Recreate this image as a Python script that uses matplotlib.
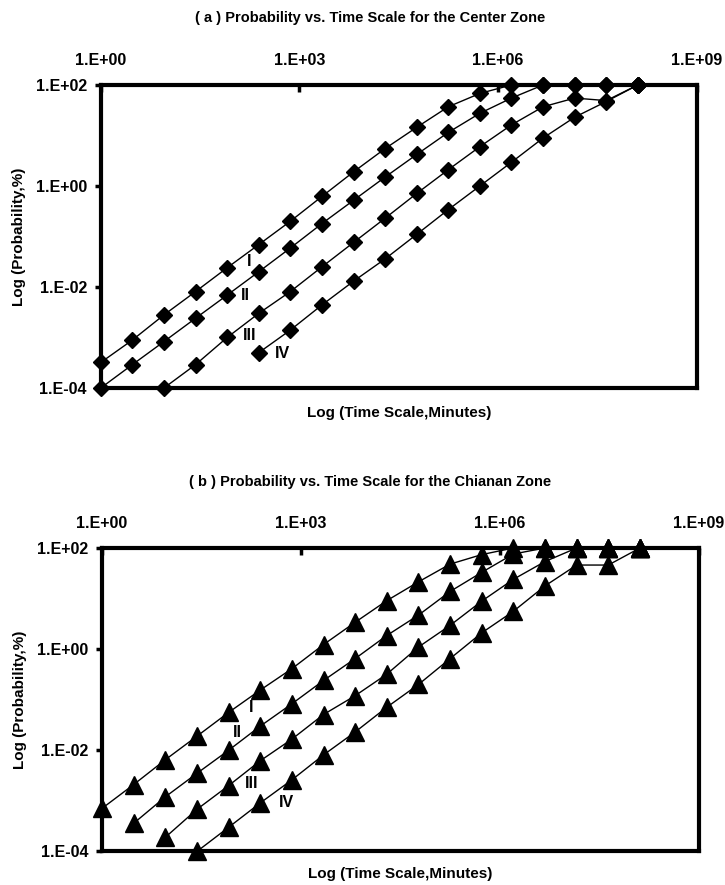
import matplotlib
matplotlib.use("Agg")
import matplotlib.pyplot as plt
from matplotlib.ticker import FixedLocator, NullLocator

plt.rcParams['font.family'] = ['Liberation Sans', 'DejaVu Sans']
plt.rcParams['font.weight'] = 'bold'

# Time scale (minutes)
time_min = [1, 3, 9, 27, 81, 243, 729, 2187, 6561, 19683, 59049, 177147,
            531441, 1594323, 4782969, 14348907, 43046721, 129140163]

# Panel (a) Center Zone, probability (%)
a_I = [3.2e-4, 8.9e-4, 2.8e-3, 8.1e-3, 0.024, 0.069, 0.20, 0.62, 1.9, 5.5,
       14.5, 37, 68, 100, 100, 100, 100, 100]
a_II = [1.0e-4, 2.9e-4, 8.3e-4, 2.4e-3, 6.9e-3, 0.020, 0.059, 0.18, 0.52,
        1.5, 4.2, 11.5, 27.5, 55, 100, 100, 100, 100]
a_III = [1.0e-4, 2.9e-4, 1.0e-3, 3.0e-3, 8.1e-3, 0.025, 0.076, 0.23, 0.71,
         2.1, 6.0, 16.2, 37, 55, 49, 100]
a_IV = [5.0e-4, 1.4e-3, 4.4e-3, 0.013, 0.036, 0.11, 0.34, 1.0, 2.95, 8.9,
        23, 47, 100]
a_start = [0, 0, 2, 5]   # first time step of each series

# Panel (b) Chianan Zone, probability (%)
b_I = [7.1e-4, 2.1e-3, 6.5e-3, 0.019, 0.056, 0.155, 0.41, 1.23, 3.4, 9.1,
       21.4, 48, 74, 100, 100, 100, 100, 100]
b_II = [3.6e-4, 1.2e-3, 3.5e-3, 0.010, 0.030, 0.083, 0.24, 0.65, 1.86, 4.7,
        13.8, 33, 76, 100, 100, 100, 100]
b_III = [1.9e-4, 6.8e-4, 2.0e-3, 6.2e-3, 0.0166, 0.051, 0.12, 0.32, 1.1,
         2.95, 8.9, 24, 54, 100, 100, 100]
b_IV = [1.0e-4, 3.0e-4, 9.1e-4, 2.6e-3, 8.1e-3, 0.023, 0.071, 0.20, 0.65,
        2.1, 5.6, 17.8, 46, 46, 100]
b_start = [0, 1, 2, 3]

series_names = ["I", "II", "III", "IV"]
xtick_vals = [1, 1e3, 1e6, 1e9]
xtick_labels = ["1.E+00", "1.E+03", "1.E+06", "1.E+09"]
ytick_vals = [1e-4, 1e-2, 1, 1e2]
ytick_labels = ["1.E-04", "1.E-02", "1.E+00", "1.E+02"]

titles = ["( a ) Probability vs. Time Scale for the Center Zone",
          "( b ) Probability vs. Time Scale for the Chianan Zone"]

fig = plt.figure(figsize=(7.25, 8.85), dpi=100)
ax_a = fig.add_axes([0.139, 0.5616, 0.822, 0.3424])
ax_b = fig.add_axes([0.1407, 0.0379, 0.8233, 0.3429])

panels = [
    (ax_a, [a_I, a_II, a_III, a_IV], a_start, 'D', 8.5,
     [(174, 0.032), (151, 0.0069), (178, 0.0011), (562, 0.00049)], 13),
    (ax_b, [b_I, b_II, b_III, b_IV], b_start, '^', 13,
     [(178, 0.071), (110, 0.023), (178, 0.0022), (603, 0.00093)], 11),
]

for ax, data, starts, marker, ms, lab_pos, xpad in panels:
    for ys, s in zip(data, starts):
        xs = time_min[s:s + len(ys)]
        ax.plot(xs, ys, color='black', lw=1.0, marker=marker, ms=ms,
                mfc='black', mec='black', clip_on=False, zorder=3)
    for name, (tx, ty) in zip(series_names, lab_pos):
        ax.text(tx, ty, name, fontsize=11.5, fontweight='bold',
                ha='center', va='center')
    ax.set_xscale('log')
    ax.set_yscale('log')
    ax.set_xlim(1, 1e9)
    ax.set_ylim(1e-4, 1e2)
    ax.xaxis.set_major_locator(FixedLocator(xtick_vals))
    ax.xaxis.set_minor_locator(NullLocator())
    ax.set_xticklabels(xtick_labels)
    ax.yaxis.set_major_locator(FixedLocator(ytick_vals))
    ax.yaxis.set_minor_locator(NullLocator())
    ax.set_yticklabels(ytick_labels)
    ax.tick_params(axis='x', top=True, bottom=False, labeltop=True,
                   labelbottom=False, direction='in', length=5, width=2.5,
                   pad=12, labelsize=11.5)
    ax.tick_params(axis='y', direction='out', length=4, width=2.5, pad=6,
                   labelsize=11.5)
    for lbl in ax.get_xticklabels() + ax.get_yticklabels():
        lbl.set_fontweight('bold')
    for sp in ax.spines.values():
        sp.set_linewidth(3)
        sp.set_zorder(2.5)
    ax.set_xlabel("Log (Time Scale,Minutes)", fontsize=11, fontweight='bold',
                  labelpad=xpad)
    ax.set_ylabel("Log (Probability,%)", fontsize=11, fontweight='bold',
                  labelpad=7)

fig.text(0.51, 1 - 18 / 885, titles[0], ha='center', va='center',
         fontsize=10.5, fontweight='bold')
fig.text(0.51, 1 - 482 / 885, titles[1], ha='center', va='center',
         fontsize=10.5, fontweight='bold')

fig.savefig("out.png", dpi=100)
